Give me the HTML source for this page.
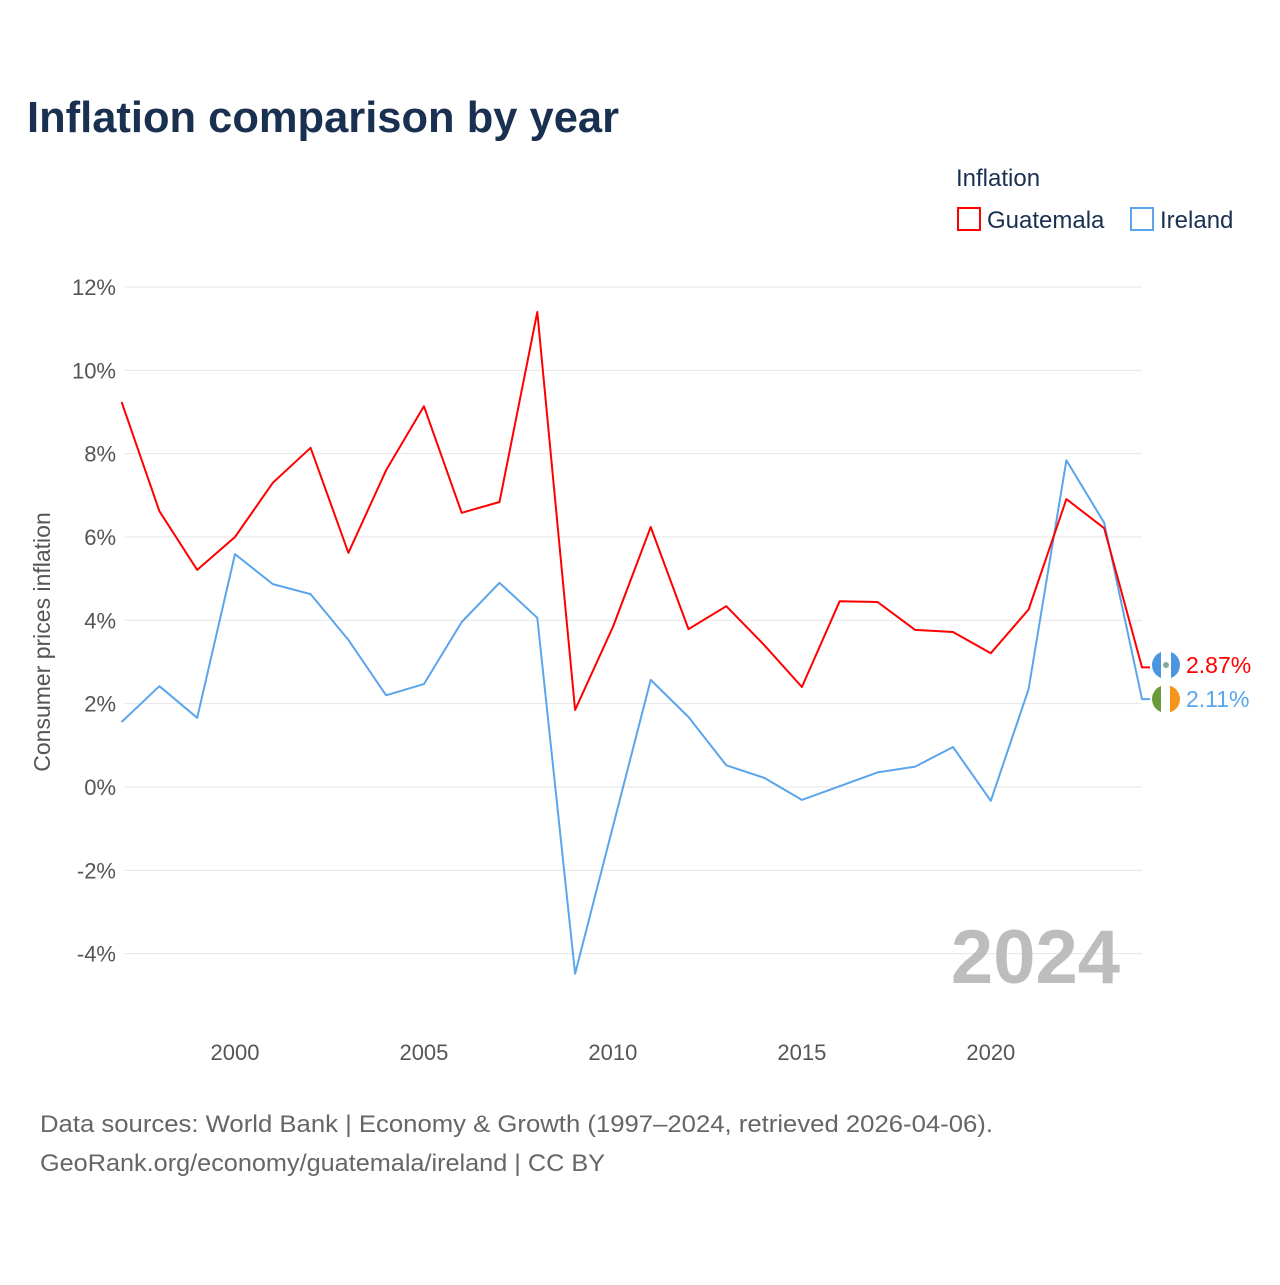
<!DOCTYPE html>
<html><head><meta charset="utf-8"><style>
body{margin:0;background:#fff;font-family:"Liberation Sans",sans-serif;}
</style></head><body>
<svg width="1280" height="1280" xmlns="http://www.w3.org/2000/svg" font-family="Liberation Sans, sans-serif">
<rect width="1280" height="1280" fill="#fff"/>
<text x="27" y="132" font-size="44" font-weight="bold" fill="#1a3050" textLength="592" lengthAdjust="spacingAndGlyphs">Inflation comparison by year</text>
<text x="956" y="186" font-size="24" fill="#1a3050">Inflation</text>
<g><rect x="958" y="208" width="22" height="22" fill="none" stroke="#f00" stroke-width="2"/><text x="987" y="228" font-size="24" fill="#1a3050">Guatemala</text></g>
<g><rect x="1131" y="208" width="22" height="22" fill="none" stroke="#5aa5eb" stroke-width="2"/><text x="1160" y="228" font-size="24" fill="#1a3050">Ireland</text></g>
<g id="grid"></g><g id="xt"></g><g id="lines"></g>
<text x="1120" y="983" font-size="76" font-weight="bold" fill="#bdbdbd" text-anchor="end">2024</text>
<text transform="translate(50,642) rotate(-90)" font-size="23" fill="#555" text-anchor="middle">Consumer prices inflation</text>
<text x="40" y="1132" font-size="24" fill="#666" textLength="953" lengthAdjust="spacingAndGlyphs">Data sources: World Bank | Economy &amp; Growth (1997–2024, retrieved 2026-04-06).</text>
<text x="40" y="1171" font-size="24" fill="#666" textLength="565" lengthAdjust="spacingAndGlyphs">GeoRank.org/economy/guatemala/ireland | CC BY</text>
<g><circle cx="1166" cy="665" r="14" fill="#4a97e0"/><rect x="1161" y="651" width="10" height="28" fill="#fff"/><circle cx="1166" cy="665" r="3" fill="#8a9" /></g>
<g><clipPath id="ci"><circle cx="1166" cy="699" r="14"/></clipPath><g clip-path="url(#ci)"><rect x="1152" y="685" width="10" height="28" fill="#6a9a3a"/><rect x="1161" y="685" width="10" height="28" fill="#fff"/><rect x="1170" y="685" width="10" height="28" fill="#f7941d"/></g></g>
<text x="1186" y="673" font-size="23" fill="#f00">2.87%</text>
<text x="1186" y="707" font-size="23" fill="#5aa5eb">2.11%</text>
</svg>
<script>
const years=[1997,1998,1999,2000,2001,2002,2003,2004,2005,2006,2007,2008,2009,2010,2011,2012,2013,2014,2015,2016,2017,2018,2019,2020,2021,2022,2023,2024];
const guatemala=[9.24,6.62,5.21,6.0,7.30,8.14,5.62,7.6,9.14,6.58,6.84,11.4,1.85,3.84,6.24,3.79,4.34,3.41,2.40,4.46,4.44,3.77,3.72,3.21,4.26,6.91,6.21,2.87];
const ireland=[1.56,2.42,1.66,5.59,4.87,4.63,3.53,2.2,2.47,3.96,4.9,4.06,-4.48,-0.95,2.57,1.68,0.52,0.22,-0.31,0.02,0.35,0.49,0.96,-0.33,2.35,7.84,6.34,2.11];
const yTicks=[-4,-2,0,2,4,6,8,10,12];
const xTicks=[2000,2005,2010,2015,2020];
const NS="http://www.w3.org/2000/svg";
const x=v=>121.6+(v-1997)*(1142-121.6)/27;
const y=v=>787-v*41.667;
function mk(t,a,p){const e=document.createElementNS(NS,t);for(const k in a)e.setAttribute(k,a[k]);p.appendChild(e);return e;}
const grid=document.getElementById('grid');
yTicks.forEach(v=>{
 const l=mk('line',{x1:125,x2:1142,y1:y(v),y2:y(v),stroke:'#e6e6e6','stroke-width':1},grid);
 
 
 const t=mk('text',{x:116,y:y(v)+8,'font-size':22,fill:'#555','text-anchor':'end'},grid);
 t.textContent=v+'%';
 
 
});
const xt=document.getElementById('xt');
xTicks.forEach(v=>{
 const t=mk('text',{x:x(v),y:1060,'font-size':22,fill:'#555','text-anchor':'middle'},xt);
 t.textContent=v;
 
 
});
const lines=document.getElementById('lines');
function series(vals,col,name){
 let d=vals.map((v,i)=>(i?'L':'M')+x(years[i]).toFixed(1)+','+y(v).toFixed(1)).join(' ');
 d+=' L'+(x(years[years.length-1])+8)+','+y(vals[vals.length-1]).toFixed(1);
 const p=mk('path',{d:d,fill:'none',stroke:col,'stroke-width':2,'stroke-linejoin':'round'},lines);
 
 
}
series(ireland,'#5aa5eb','line-ireland');
series(guatemala,'#f00','line-guatemala');
</script>
</body></html>
